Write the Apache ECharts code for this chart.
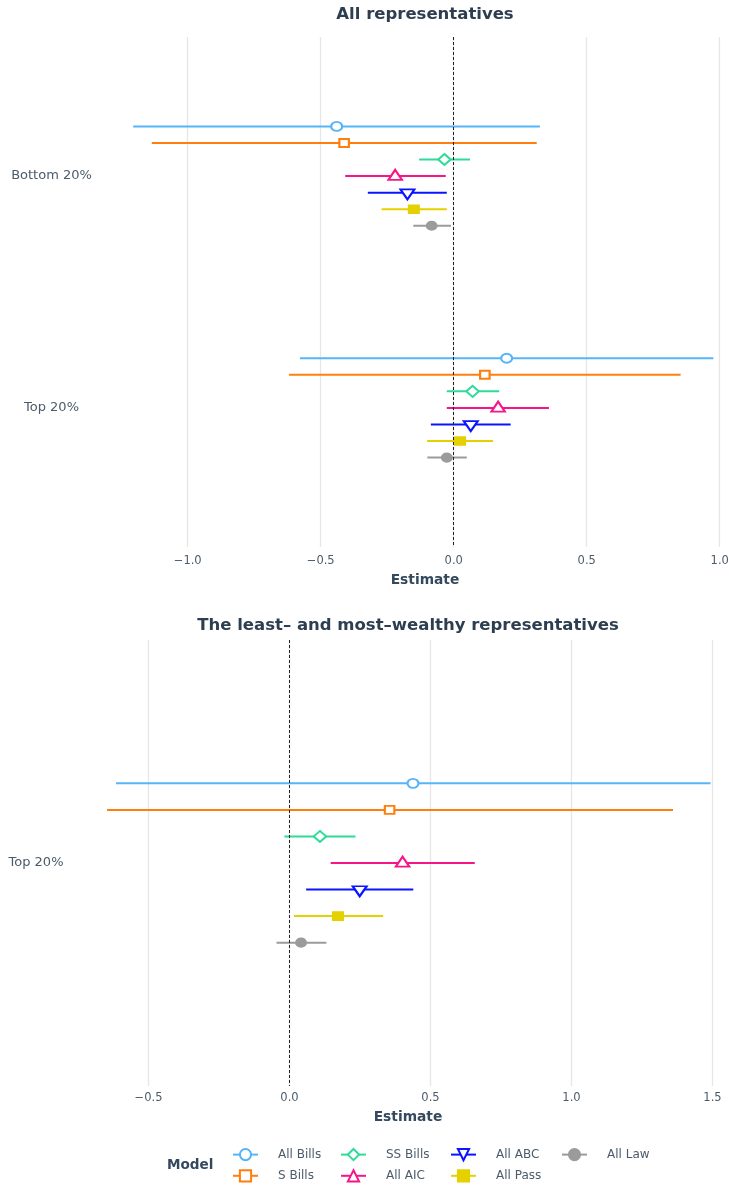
<!DOCTYPE html>
<html>
<head>
<meta charset="utf-8">
<script src="https://cdn.jsdelivr.net/npm/echarts@6/dist/echarts.min.js"></script>
<style>
  html, body { margin: 0; padding: 0; background: #ffffff; overflow: hidden; }
  #chart { width: 729px; height: 1188px; }
</style>
</head>
<body>
<div id="chart"></div>
<script>
// Model names, in dodge order (top to bottom within each group)
const models = ['All Bills', 'S Bills', 'SS Bills', 'All AIC', 'All ABC', 'All Pass', 'All Law'];

// Panel 1: all representatives
const allRepsGroups = ['Bottom 20%', 'Top 20%'];
const allRepsEstimate = [[-0.440, 0.199], [-0.412, 0.117], [-0.035, 0.071], [-0.220, 0.167], [-0.174, 0.064], [-0.150, 0.024], [-0.083, -0.026]];
const allRepsLower    = [[-1.205, -0.578], [-1.135, -0.619], [-0.130, -0.026], [-0.408, -0.026], [-0.323, -0.086], [-0.271, -0.100], [-0.152, -0.099]];
const allRepsUpper    = [[0.324, 0.976], [0.312, 0.853], [0.061, 0.171], [-0.030, 0.358], [-0.026, 0.214], [-0.026, 0.148], [-0.010, 0.049]];
const allRepsTicks    = [-1, -0.5, 0, 0.5, 1];

// Panel 2: the least- and most-wealthy representatives
const wealthGroups   = ['Top 20%'];
const wealthEstimate = [[0.438], [0.355], [0.108], [0.401], [0.249], [0.172], [0.041]];
const wealthLower    = [[-0.615], [-0.647], [-0.018], [0.146], [0.059], [0.016], [-0.046]];
const wealthUpper    = [[1.493], [1.360], [0.234], [0.657], [0.439], [0.332], [0.131]];
const wealthTicks    = [-0.5, 0, 0.5, 1, 1.5];

// Styling
const colors = ['#56B4F9', '#FF7F0E', '#2EDB9A', '#F7158A', '#0A14FF', '#E5D000', '#9B9B9B'];
const marks = [
  { symbol: 'emptyCircle',   size: [11, 9] },
  { symbol: 'emptyRect',     size: [9.5, 8] },
  { symbol: 'emptyDiamond',  size: [12.5, 11] },
  { symbol: 'emptyTriangle', size: [13.5, 10], offset: [0, -1.3] },
  { symbol: 'emptyTriangle', size: [14, 10], rotate: 180, offset: [0, 1.7] },
  { symbol: 'rect',          size: [10, 8] },
  { symbol: 'circle',        size: [10, 8.5] }
];
const FONT = 'DejaVu Sans';
const TITLE_COLOR = '#2C3E50';
const LABEL_COLOR = '#4B5B6B';
const DODGE = 0.5;

const dodgeOffset = i => (i - (models.length - 1) / 2) * DODGE / models.length;
const fmt = v => (v < 0 ? '\u2212' : '') + Math.abs(v).toFixed(1);

const panels = [
  { groups: allRepsGroups, est: allRepsEstimate, lo: allRepsLower, hi: allRepsUpper, ticks: allRepsTicks },
  { groups: wealthGroups, est: wealthEstimate, lo: wealthLower, hi: wealthUpper, ticks: wealthTicks }
];

const pointSeries = [];
const barSeries = [];
panels.forEach((p, pi) => {
  models.forEach((name, i) => {
    const m = marks[i];
    const pts = p.groups.map((g, j) => [p.est[i][j], j + 1 + dodgeOffset(i)]);
    const bars = p.groups.map((g, j) => [p.lo[i][j], p.hi[i][j], j + 1 + dodgeOffset(i)]);
    const s = {
      type: 'line',
      name,
      xAxisIndex: pi,
      yAxisIndex: pi,
      data: pts,
      symbol: m.symbol,
      symbolSize: m.size,
      symbolRotate: m.rotate || 0,
      symbolOffset: m.offset || [0, 0],
      showSymbol: true,
      lineStyle: { color: colors[i], width: 2, opacity: 0 },
      itemStyle: { color: colors[i], borderColor: colors[i], borderWidth: 1.8 },
      emphasis: { disabled: true },
      z: 4,
      animation: false
    };
    if (i === 0) {
      s.markLine = {
        silent: true,
        symbol: 'none',
        label: { show: false },
        lineStyle: { color: '#222222', type: [3, 2], width: 1, opacity: 1 },
        data: [{ xAxis: 0 }],
        animation: false
      };
    }
    pointSeries.push(s);
    barSeries.push({
      type: 'custom',
      name,
      xAxisIndex: pi,
      yAxisIndex: pi,
      data: bars,
      encode: { x: [0, 1], y: 2 },
      z: 3,
      animation: false,
      renderItem: (params, api) => {
        const a = api.coord([api.value(0), api.value(2)]);
        const b = api.coord([api.value(1), api.value(2)]);
        return {
          type: 'line',
          shape: { x1: a[0], y1: a[1], x2: b[0], y2: b[1] },
          style: { stroke: colors[i], lineWidth: 2 }
        };
      }
    });
  });
});

const xAxisBase = (gridIndex, min, max, ticks, nameGap, labelMargin) => ({
  type: 'value',
  gridIndex,
  min, max,
  name: 'Estimate',
  nameLocation: 'middle',
  nameGap,
  nameTextStyle: { fontFamily: FONT, fontWeight: 'bold', fontSize: 13.8, color: '#34495E' },
  axisLine: { show: false },
  axisTick: { show: false, customValues: ticks },
  splitLine: { show: true, lineStyle: { color: '#E6E6E6', width: 1.3 } },
  axisLabel: { customValues: ticks, formatter: fmt, margin: labelMargin, fontFamily: FONT, fontSize: 11.5, color: LABEL_COLOR }
});

const yAxisBase = (gridIndex, max, groups, margin) => ({
  type: 'value',
  gridIndex,
  inverse: true,
  min: 0.4,
  max,
  axisLine: { show: false },
  axisTick: { show: false },
  splitLine: { show: false },
  axisLabel: {
    customValues: groups.map((g, j) => j + 1),
    formatter: v => groups[Math.round(v) - 1],
    align: 'center',
    margin,
    fontFamily: FONT,
    fontSize: 13,
    color: LABEL_COLOR
  }
});

const legendCols = [['All Bills', 'S Bills'], ['SS Bills', 'All AIC'], ['All ABC', 'All Pass'], ['All Law']];
const legendLeft = [232, 340, 450, 561];

const option = {
  backgroundColor: '#ffffff',
  animation: false,
  title: [
    { text: 'All representatives', left: 425, top: 6, textAlign: 'center', padding: 0,
      textStyle: { fontFamily: FONT, fontWeight: 'bold', fontSize: 16.5, color: TITLE_COLOR } },
    { text: 'The least\u2013 and most\u2013wealthy representatives', left: 408, top: 617, textAlign: 'center', padding: 0,
      textStyle: { fontFamily: FONT, fontWeight: 'bold', fontSize: 16.5, color: TITLE_COLOR } },
    { text: 'Model', left: 167, top: 1158, padding: 0,
      textStyle: { fontFamily: FONT, fontWeight: 'bold', fontSize: 13.6, color: '#34495E' } }
  ],
  grid: [
    { left: 105, top: 37, width: 640, height: 510, outerBoundsMode: 'none' },
    { left: 77, top: 640, width: 662, height: 446, outerBoundsMode: 'none' }
  ],
  xAxis: [
    xAxisBase(0, -1.311, 1.095, allRepsTicks, 26, 8),
    xAxisBase(1, -0.7535, 1.594, wealthTicks, 24, 6)
  ],
  yAxis: [
    yAxisBase(0, 2.6, allRepsGroups, 53.5),
    yAxisBase(1, 1.6, wealthGroups, 41)
  ],
  legend: legendCols.map((data, k) => ({
    data,
    left: legendLeft[k],
    top: 1148,
    orient: 'vertical',
    padding: 0,
    itemWidth: 25,
    itemHeight: 14,
    itemGap: 8,
    selectedMode: false,
    lineStyle: { width: 2, opacity: 1 },
    textStyle: { fontFamily: FONT, fontSize: 12, color: LABEL_COLOR, padding: [0, 0, 0, 15] }
  })),
  series: pointSeries.concat(barSeries)
};

const chart = echarts.init(document.getElementById('chart'), null, { renderer: 'canvas' });
chart.setOption(option);
</script>
</body>
</html>
